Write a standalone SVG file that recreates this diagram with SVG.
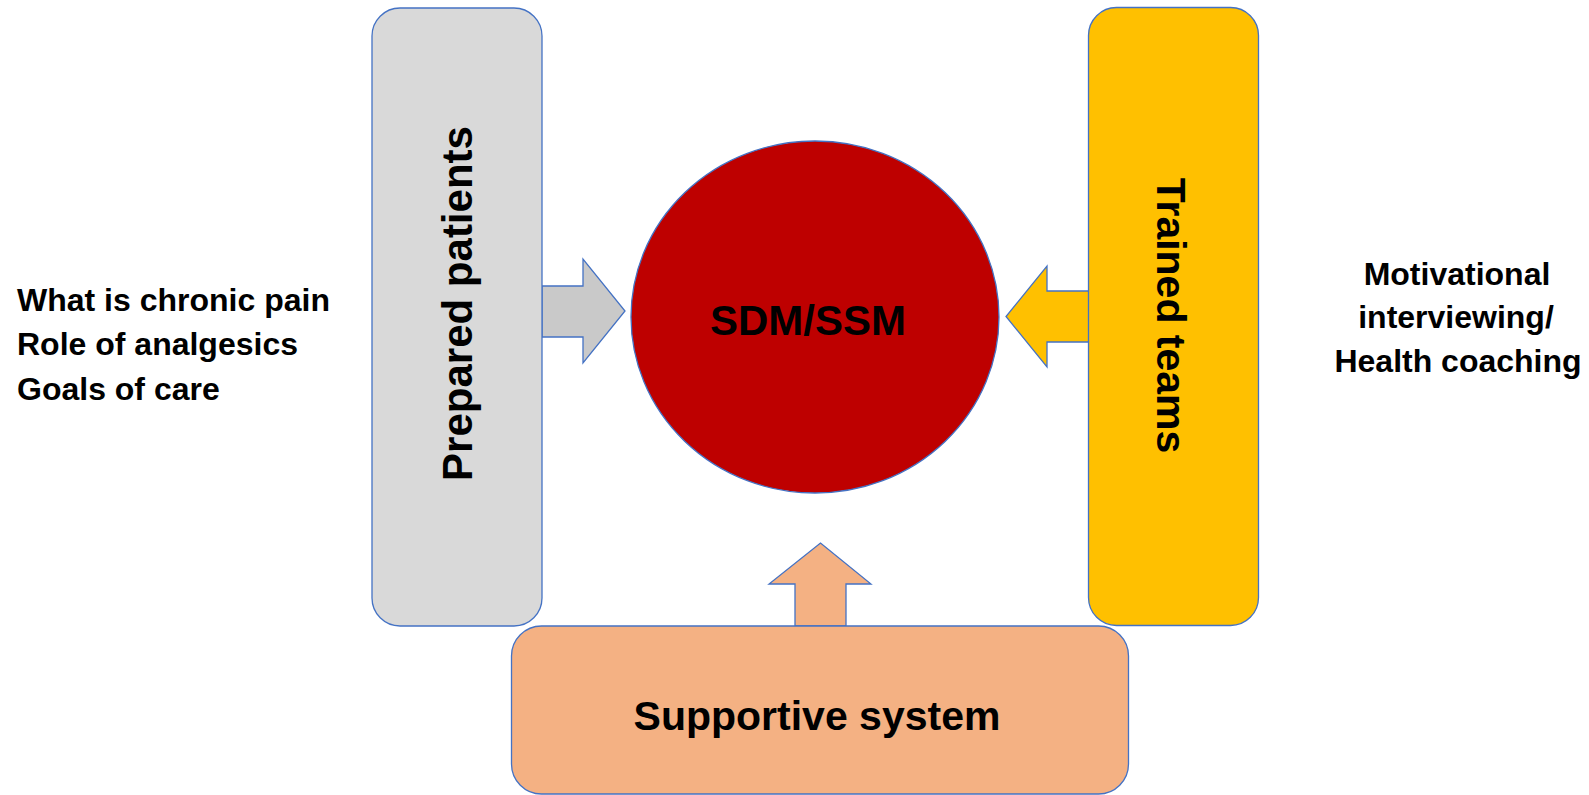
<svg xmlns="http://www.w3.org/2000/svg" width="1589" height="795" viewBox="0 0 1589 795">
  <style>
    .outline { stroke: #4472C4; stroke-width: 1.3; }
    .label { font-family: "Liberation Sans", Arial, sans-serif; font-weight: bold; fill: #000000; }
    .big { font-size: 42px; }
    .note { font-size: 32px; }
  </style>
  <rect width="1589" height="795" fill="#FFFFFF"/>

  <!-- block arrows feeding the centre -->
  <g id="connectors">
    <polygon class="outline" fill="#C9C9C9" points="542,286 583,286 583,259 625,311 583,363 583,337 542,337"/>
    <polygon class="outline" fill="#FFC000" points="1089,291 1047,291 1047,266 1006,316.5 1047,367 1047,342 1089,342"/>
    <polygon class="outline" fill="#F4B183" points="795,626 795,584 769,584 820.5,543 871,584 846,584 846,626"/>
  </g>

  <g id="prepared-patients">
    <rect class="outline" x="372" y="8" width="170" height="618" rx="28" ry="28" fill="#D9D9D9"/>
    <text class="label big" text-anchor="middle" transform="translate(472,303.5) rotate(-90)">Prepared patients</text>
  </g>

  <g id="trained-teams">
    <rect class="outline" x="1088.5" y="7.5" width="170" height="618" rx="28" ry="28" fill="#FFC000"/>
    <text class="label" font-size="41" text-anchor="middle" transform="translate(1157,315.5) rotate(90)">Trained teams</text>
  </g>

  <g id="sdm-ssm">
    <ellipse class="outline" cx="815" cy="317" rx="184" ry="176" fill="#BE0000"/>
    <text class="label big" x="808" y="335" text-anchor="middle">SDM/SSM</text>
  </g>

  <g id="supportive-system">
    <rect class="outline" x="511.5" y="626" width="617" height="168" rx="30" ry="30" fill="#F4B183"/>
    <text class="label" font-size="41" x="817" y="730" text-anchor="middle">Supportive system</text>
  </g>

  <g id="patient-topics">
    <text class="label note" x="17" y="311">What is chronic pain</text>
    <text class="label note" x="17" y="355">Role of analgesics</text>
    <text class="label note" x="17" y="400">Goals of care</text>
  </g>

  <g id="team-skills">
    <text class="label note" x="1457" y="285" text-anchor="middle">Motivational</text>
    <text class="label note" x="1456" y="328" text-anchor="middle">interviewing/</text>
    <text class="label note" x="1458" y="372" text-anchor="middle">Health coaching</text>
  </g>
</svg>
